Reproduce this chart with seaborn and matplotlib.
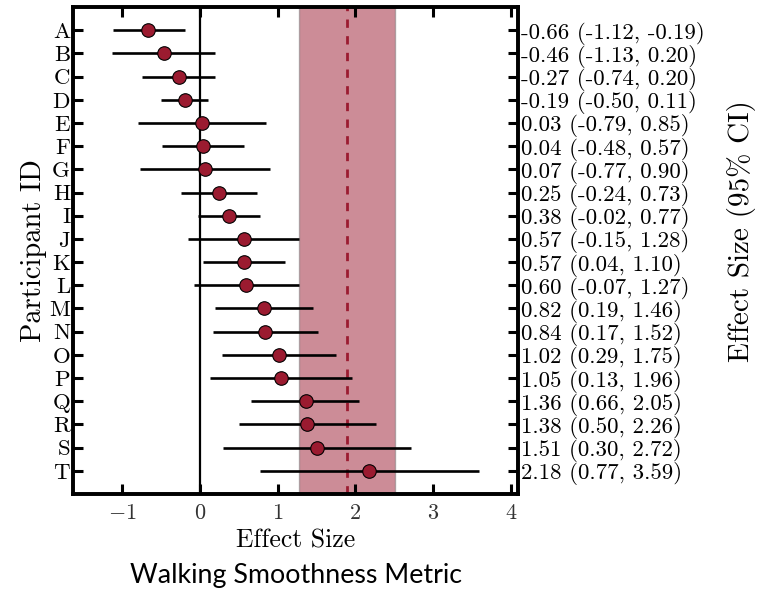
import matplotlib
matplotlib.use("Agg")
import matplotlib.pyplot as plt
import seaborn as sns
import pandas as pd
import numpy as np

participants = list("ABCDEFGHIJKLMNOPQRST")
effect = [-0.66, -0.46, -0.27, -0.19, 0.03, 0.04, 0.07, 0.25, 0.38, 0.57,
          0.57, 0.60, 0.82, 0.84, 1.02, 1.05, 1.36, 1.38, 1.51, 2.18]
ci_low = [-1.12, -1.13, -0.74, -0.50, -0.79, -0.48, -0.77, -0.24, -0.02, -0.15,
          0.04, -0.07, 0.19, 0.17, 0.29, 0.13, 0.66, 0.50, 0.30, 0.77]
ci_high = [-0.19, 0.20, 0.20, 0.11, 0.85, 0.57, 0.90, 0.73, 0.77, 1.28,
           1.10, 1.27, 1.46, 1.52, 1.75, 1.96, 2.05, 2.26, 2.72, 3.59]
ref_value = 1.89
ref_band = (1.27, 2.51)
xticks = [-1, 0, 1, 2, 3, 4]

sns.set_style("ticks")
plt.rcParams['font.family'] = ['cmr10', 'DejaVu Sans']
plt.rcParams['mathtext.fontset'] = 'cm'
plt.rcParams['axes.formatter.use_mathtext'] = True
plt.rcParams['text.color'] = 'black'
plt.rcParams['axes.labelcolor'] = 'black'
plt.rcParams['xtick.color'] = 'black'
plt.rcParams['ytick.color'] = 'black'
plt.rcParams['axes.edgecolor'] = 'black'

df = pd.DataFrame({"pid": participants, "effect": effect,
                   "lo": ci_low, "hi": ci_high})
df["pos"] = np.arange(len(df))

fig = plt.figure(figsize=(7.58, 5.89), dpi=100)
ax = fig.add_axes([73/758, 1-494/589, (518-73)/758, (494-7)/589])

dark_red = '#9b1b30'
ax.axvspan(ref_band[0], ref_band[1], facecolor=dark_red, alpha=0.5,
           edgecolor='#777777', linewidth=1.0, zorder=0)
ax.axvline(ref_value, color=dark_red, linestyle=(0, (3, 3)), linewidth=2, zorder=1)
ax.axvline(0, color='black', linewidth=1.6, zorder=1)
ax.hlines(df["pos"], df["lo"], df["hi"], color='black', linewidth=1.9, zorder=2)
sns.scatterplot(data=df, x="effect", y="pos", ax=ax, color=dark_red, s=95,
                edgecolor='black', linewidth=0.8, zorder=3, legend=False)

ax.set_xlim(min(ci_low) - 0.5, max(ci_high) + 0.5)
ax.set_ylim(len(df), -1)
ax.set_yticks(df["pos"])
ax.set_yticklabels(participants, fontsize=16.5)
ax.set_xticks(xticks)
ax.set_xticklabels([f"${t}$" for t in xticks], fontsize=16, color='#333333')
ax.set_xlabel("Effect Size", fontsize=18.5, labelpad=4)
ax.set_ylabel("Participant ID", fontsize=20.5, labelpad=2)

for s in ax.spines.values():
    s.set_linewidth(2.6)
    s.set_visible(True)
ax.tick_params(axis='both', direction='in', length=7, width=2.2,
               top=True, right=False, pad=7)
ax.tick_params(axis='y', pad=2)

ax2 = ax.twinx()
ax2.set_ylim(ax.get_ylim())
ax2.set_yticks(df["pos"])
ax2.set_yticklabels([f"{e:.2f} ({l:.2f}, {h:.2f})" for e, l, h in zip(effect, ci_low, ci_high)],
                    fontsize=16.5)
ax2.tick_params(axis='y', direction='in', length=7, width=2.2, pad=2)
ax2.set_ylabel("Effect Size (95% CI)", fontsize=21)
ax2.yaxis.set_label_coords((727 - 73) / 445, (494 - 231) / 487)
for s in ax2.spines.values():
    s.set_linewidth(2.6)

fig.text(296/758, 1-575/589, "Walking Smoothness Metric", fontsize=19.3,
         family=['Lato', 'DejaVu Sans'], ha='center', va='center')

fig.savefig("out.png", dpi=100)
